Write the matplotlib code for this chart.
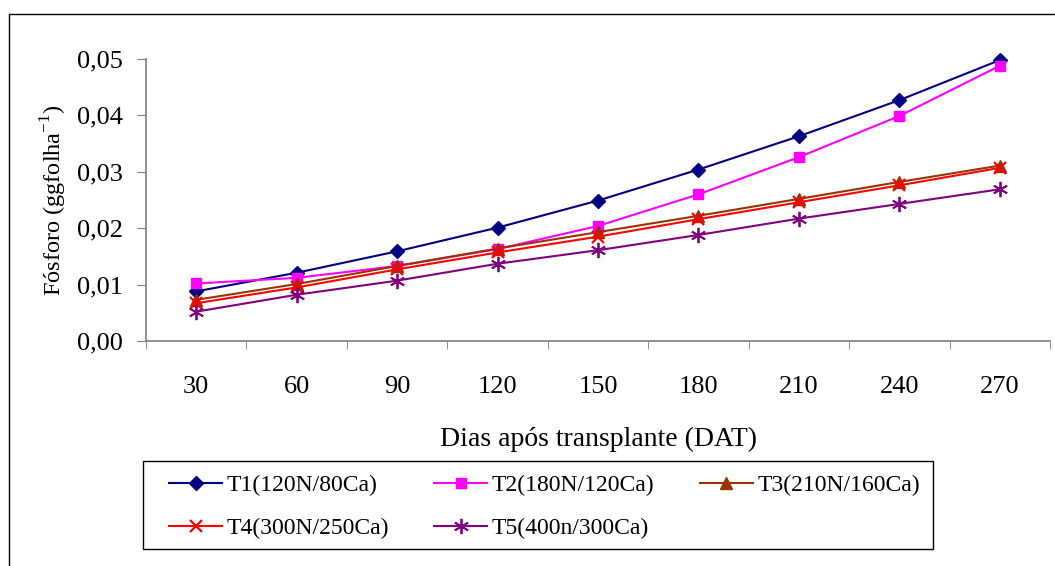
import matplotlib as mpl
mpl.use('agg')
import matplotlib.pyplot as plt
from matplotlib.patches import Rectangle
from matplotlib.ticker import FuncFormatter, FixedLocator

plt.rcParams['font.family'] = ['Liberation Serif', 'DejaVu Serif']
plt.rcParams['mathtext.fontset'] = 'custom'
plt.rcParams['mathtext.rm'] = 'Liberation Serif'

dias = [30, 60, 90, 120, 150, 180, 210, 240, 270]
t1 = [0.0088, 0.0121, 0.0159, 0.0201, 0.0249, 0.0304, 0.0363, 0.0427, 0.0498]
t2 = [0.0102, 0.0112, 0.0133, 0.0163, 0.0204, 0.0260, 0.0326, 0.0399, 0.0488]
t3 = [0.0073, 0.0101, 0.0133, 0.0164, 0.0193, 0.0222, 0.0252, 0.0282, 0.0311]
t4 = [0.0067, 0.0095, 0.0127, 0.0157, 0.0185, 0.0216, 0.0246, 0.0276, 0.0307]
t5 = [0.0052, 0.0082, 0.0107, 0.0137, 0.0161, 0.0188, 0.0217, 0.0243, 0.0269]
nomes = ['T1(120N/80Ca)', 'T2(180N/120Ca)', 'T3(210N/160Ca)',
         'T4(300N/250Ca)', 'T5(400n/300Ca)']

W, H = 1055, 566
fig = plt.figure(figsize=(W / 100, H / 100), dpi=100)
ax = fig.add_axes([146 / W, 1 - 341 / H, 904 / W, 282 / H])

estilos = [
    dict(color='#000080', marker='D', ms=7),
    dict(color='#FF00FF', marker='s', ms=7.5),
    dict(color='#993300', marker='^', ms=8.5),
    dict(color='#FF0000', marker='x', ms=9, mew=1.6),
    dict(color='#800080', marker=(6, 2, 0), ms=11, mew=1.3),
]
linhas = []
for serie, nome, st in zip([t1, t2, t3, t4, t5], nomes, estilos):
    l, = ax.plot(dias, serie, lw=1.5, label=nome, clip_on=False, **st)
    linhas.append(l)

ax.set_xlim(15, 285)
ax.set_ylim(0, 0.05)
ax.set_xticks(dias)
ax.set_xticklabels([str(d) for d in dias])
ax.xaxis.set_minor_locator(FixedLocator(list(range(15, 286, 30))))
ax.tick_params(axis='x', which='major', length=0, pad=25, labelsize=19)
ax.tick_params(axis='x', which='minor', length=6, direction='out', color='#808080')
ax.set_yticks([0, 0.01, 0.02, 0.03, 0.04, 0.05])
ax.yaxis.set_major_formatter(FuncFormatter(lambda v, p: ('%.2f' % v).replace('.', ',')))
ax.tick_params(axis='y', length=6.5, direction='out', labelsize=19, pad=10, color='#808080')

for s in ['top', 'right']:
    ax.spines[s].set_visible(False)
for s in ['left', 'bottom']:
    ax.spines[s].set_color('#808080')
    ax.spines[s].set_linewidth(1.2)

ax.set_xlabel('Dias após transplante (DAT)', fontsize=20, labelpad=21)
ax.set_ylabel('Fósforo (ggfolha$^{\\mathregular{-1}}$)', fontsize=17.5, labelpad=6)

# ordem por linhas: a legenda do matplotlib preenche por colunas
ordem = [0, 3, 1, 4, 2]
leg = fig.legend([linhas[i] for i in ordem], [nomes[i] for i in ordem],
                 loc='upper left', bbox_to_anchor=(169 / W, 1 - 475 / H),
                 ncol=3, fontsize=17, frameon=False,
                 handlelength=2.25, borderaxespad=0, handletextpad=0.2,
                 labelspacing=0.9, columnspacing=1.9, borderpad=0)

# caixa da legenda
fig.patches.append(Rectangle((143 / W, 1 - 549 / H), 790 / W, 88 / H, transform=fig.transFigure,
                             fill=False, edgecolor='black', lw=1.0))
# borda do gráfico
fig.patches.append(Rectangle((9 / W, -0.1), 1.1, 1 - 14 / H + 0.1, transform=fig.transFigure,
                             fill=False, edgecolor='black', lw=1.0))

fig.savefig('out.png', dpi=100)
